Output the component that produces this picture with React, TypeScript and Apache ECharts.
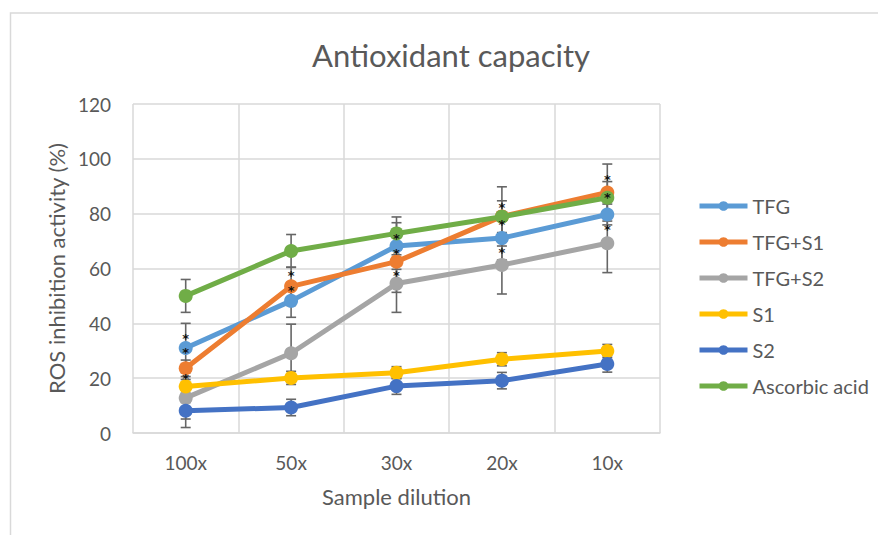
import React, { useEffect, useRef } from "react";
import * as echarts from "echarts";

const categories = ["100x", "50x", "30x", "20x", "10x"];
const seriesNames = ["TFG", "TFG+S1", "TFG+S2", "S1", "S2", "Ascorbic acid"];
const colors = ["#5B9BD5", "#ED7D31", "#A5A5A5", "#FFC000", "#4472C4", "#70AD47"];

const tfg = [31, 48.2, 68.2, 71.1, 79.7];
const tfgS1 = [23.6, 53.5, 62.5, 79, 87.7];
const tfgS2 = [12.8, 29.1, 54.5, 61.3, 69.2];
const s1 = [17, 20.1, 22, 26.9, 29.9];
const s2 = [8.1, 9.3, 17.1, 19.1, 25.2];
const ascorbic = [50, 66.4, 72.8, 78.9, 85.8];

const tfgErr = [9, 6, 8.5, 8, 3.8];
const tfgS1Err = [3, 7, 11.2, 10.8, 10.4];
const tfgS2Err = [10.8, 10.6, 10.5, 10.6, 10.7];
const s1Err = [2.5, 2.4, 2.2, 2.4, 2.4];
const s2Err = [3, 3, 3, 3, 3];
const ascorbicErr = [6, 6, 6, 5.8, 5.9];

// significance asterisks: [category index, value]
const asterisks: [number, number][] = [
  [0, 35.4], [0, 30.6], [0, 21],
  [1, 58.5], [1, 53],
  [2, 72], [2, 66.7], [2, 58.5],
  [3, 83.2], [3, 77.1], [3, 67.1],
  [4, 93.6], [4, 87], [4, 75.3],
];

const allValues = [tfg, tfgS1, tfgS2, s1, s2, ascorbic];
const allErrs = [tfgErr, tfgS1Err, tfgS2Err, s1Err, s2Err, ascorbicErr];

const FONT = "Lato, 'Open Sans', sans-serif";
const TEXT = "#595959";

export default function App() {
  const ref = useRef<HTMLDivElement>(null);
  useEffect(() => {
    if (!ref.current) return;
    const chart = echarts.init(ref.current, undefined, { renderer: "svg" });

    const errData: any[] = [];
    allValues.forEach((vals, si) => {
      vals.forEach((v, i) => errData.push([i, v, allErrs[si][i]]));
    });

    const lineSeries = seriesNames.map((name, si) => ({
      name,
      type: "line",
      data: allValues[si],
      symbol: "circle",
      symbolSize: 14,
      showSymbol: true,
      lineStyle: { width: 5, color: colors[si] },
      itemStyle: { color: colors[si] },
      z: 3 + si,
    }));

    chart.setOption({
      animation: false,
      backgroundColor: "#fff",
      textStyle: { fontFamily: FONT },
      graphic: [
        {
          type: "rect",
          shape: { x: 10.5, y: 13, width: 1000, height: 700 },
          style: { fill: "none", stroke: "#D9D9D9", lineWidth: 1.5 },
          silent: true,
          z: -10,
        },
        {
          type: "text",
          x: 451,
          y: 55,
          style: {
            text: "Antioxidant capacity",
            fontSize: 31,
            fontFamily: FONT,
            fill: TEXT,
            textAlign: "center",
            textVerticalAlign: "middle",
          },
        },
      ],
      grid: { left: 133, right: 218, top: 104, bottom: 102, containLabel: false },
      legend: {
        data: seriesNames,
        orient: "vertical",
        left: 697,
        top: 196,
        padding: 0,
        itemWidth: 48,
        itemHeight: 12,
        itemGap: 16,
        lineStyle: { width: 5 },
        textStyle: { fontSize: 20, color: TEXT, fontFamily: FONT },
      },
      xAxis: {
        type: "category",
        data: categories,
        boundaryGap: true,
        axisLine: { show: true, lineStyle: { color: "#D9D9D9", width: 1.5 } },
        axisTick: { show: false },
        splitLine: { show: true, lineStyle: { color: "#D9D9D9", width: 1.5 } },
        axisLabel: { fontSize: 19, color: TEXT, margin: 20, fontFamily: FONT },
        name: "Sample dilution",
        nameLocation: "middle",
        nameGap: 52,
        nameTextStyle: { fontSize: 22, color: TEXT, fontFamily: FONT },
      },
      yAxis: {
        type: "value",
        min: 0,
        max: 120,
        interval: 20,
        axisLine: { show: false },
        axisTick: { show: false },
        splitLine: { show: true, lineStyle: { color: "#D9D9D9", width: 1.5 } },
        axisLabel: { fontSize: 19, color: TEXT, margin: 22, fontFamily: FONT },
        name: "ROS inhibition activity (%)",
        nameLocation: "middle",
        nameGap: 63,
        nameTextStyle: { fontSize: 22, color: TEXT, fontFamily: FONT },
      },
      series: [
        {
          name: "errors",
          type: "custom",
          data: errData,
          z: 2,
          silent: true,
          renderItem: (params: any, api: any) => {
            const x = api.value(0);
            const v = api.value(1);
            const e = api.value(2);
            const top = api.coord([x, v + e]);
            const bot = api.coord([x, v - e]);
            const hw = 5;
            const style = { stroke: "#666666", lineWidth: 1.6 };
            return {
              type: "group",
              children: [
                { type: "line", shape: { x1: top[0], y1: top[1], x2: bot[0], y2: bot[1] }, style },
                { type: "line", shape: { x1: top[0] - hw, y1: top[1], x2: top[0] + hw, y2: top[1] }, style },
                { type: "line", shape: { x1: bot[0] - hw, y1: bot[1], x2: bot[0] + hw, y2: bot[1] }, style },
              ],
            };
          },
        },
        ...lineSeries,
        {
          name: "asterisks",
          type: "custom",
          data: asterisks,
          z: 20,
          silent: true,
          renderItem: (params: any, api: any) => {
            const p = api.coord([api.value(0), api.value(1)]);
            return {
              type: "text",
              x: p[0],
              y: p[1] + 3,
              style: {
                text: "*",
                fontSize: 13,
                fontWeight: "bold",
                fontFamily: "'DejaVu Sans', sans-serif",
                fill: "#111",
                textAlign: "center",
                textVerticalAlign: "middle",
              },
            };
          },
        },
      ],
    });
    return () => chart.dispose();
  }, []);
  return (
    <div
      ref={ref}
      style={{ position: "fixed", left: 0, top: 0, width: 878, height: 535 }}
    />
  );
}
